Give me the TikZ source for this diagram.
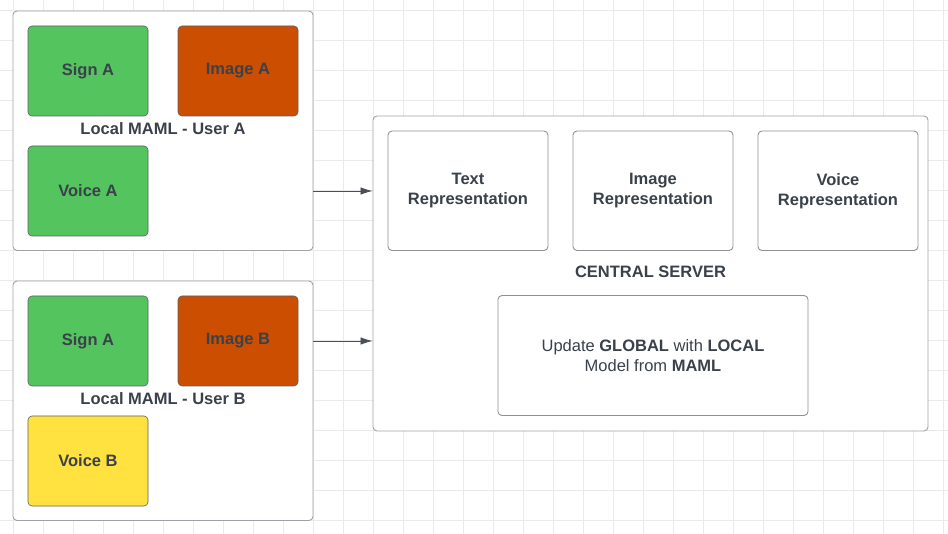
\documentclass[tikz,border=0pt]{standalone}
\usepackage{fontspec}
\setmainfont{Liberation Sans}
\usepackage{xcolor}
\usetikzlibrary{arrows.meta}

\definecolor{gridgray}{HTML}{EAEAEA}
\definecolor{framegray}{HTML}{9EA2A8}
\definecolor{boxgray}{HTML}{8E9297}
\definecolor{tileedge}{HTML}{5C6066}
\definecolor{inktext}{HTML}{3A414A}
\definecolor{signgreen}{HTML}{54C45E}
\definecolor{imageorange}{HTML}{CC4E00}
\definecolor{voiceyellow}{HTML}{FFE13F}
\definecolor{arrowgray}{HTML}{4A4F57}

\begin{document}
\begin{tikzpicture}[x=1pt, y=-1pt,
  gridline/.style={draw=gridgray, line width=0.8pt},
  panel/.style={draw=framegray, rounded corners=4pt, fill=white, line width=0.9pt},
  tile/.style={draw=tileedge, rounded corners=4pt, minimum width=120pt, minimum height=90pt, align=center, text=inktext, font=\bfseries\fontsize{16.5}{20}\selectfont, line width=0.6pt},
  rep/.style={draw=boxgray, rounded corners=4pt, fill=white, minimum width=160pt, minimum height=119.5pt, align=center, text=inktext, font=\bfseries\fontsize{16.5}{20}\selectfont, line width=0.9pt},
  caption/.style={text=inktext, font=\bfseries\fontsize{16.5}{20}\selectfont},
  link/.style={-{Latex[length=12pt, width=7.5pt]}, draw=arrowgray, line width=0.8pt}
]
\useasboundingbox[fill=white] (0,0) rectangle (948,534);

% background grid
\foreach \gx in {0,...,31}
  \draw[gridline] (13.3+30*\gx,0) -- (13.3+30*\gx,534);
\foreach \gy in {0,...,17}
  \draw[gridline] (0,10+30*\gy) -- (948,10+30*\gy);

% user A
\node[panel, minimum width=300pt, minimum height=239.5pt] (userA) at (163,130.75) {};
\node[tile, fill=signgreen] (signA) at (88,71) {Sign A};
\node[tile, fill=imageorange] (imageA) at (238,71) {Image A};
\node[tile, fill=signgreen] (voiceA) at (88,191) {Voice A};
\node[caption] (labelA) at (163,128.5) {Local MAML - User A};

% user B
\node[panel, minimum width=300pt, minimum height=239.5pt] (userB) at (163,400.75) {};
\node[tile, fill=signgreen] (signB) at (88,341) {Sign A};
\node[tile, fill=imageorange] (imageB) at (238,341) {Image B};
\node[tile, fill=voiceyellow] (voiceB) at (88,461) {Voice B};
\node[caption] (labelB) at (163,398.5) {Local MAML - User B};

% central server
\node[panel, minimum width=555pt, minimum height=315pt] (server) at (650.5,273.5) {};
\node[rep] (textRep) at (468,190.75) {Text\\Representation};
\node[rep] (imageRep) at (653,190.75) {Image\\Representation};
\node[rep] (voiceRep) at (838,190.75) {Voice\\Representation};
\node[caption] (serverLabel) at (650.5,271.5) {CENTRAL SERVER};
\node[rep, minimum width=310pt, minimum height=120pt, font=\fontsize{16.5}{20}\selectfont] (update) at (653,355.5)
  {Update \textbf{GLOBAL} with \textbf{LOCAL}\\Model from \textbf{MAML}};

\draw[link] (userA.east |- voiceA.center) -- (server.west |- voiceA.center);
\draw[link] (userB.east |- signB.center) -- (server.west |- signB.center);
\end{tikzpicture}
\end{document}
